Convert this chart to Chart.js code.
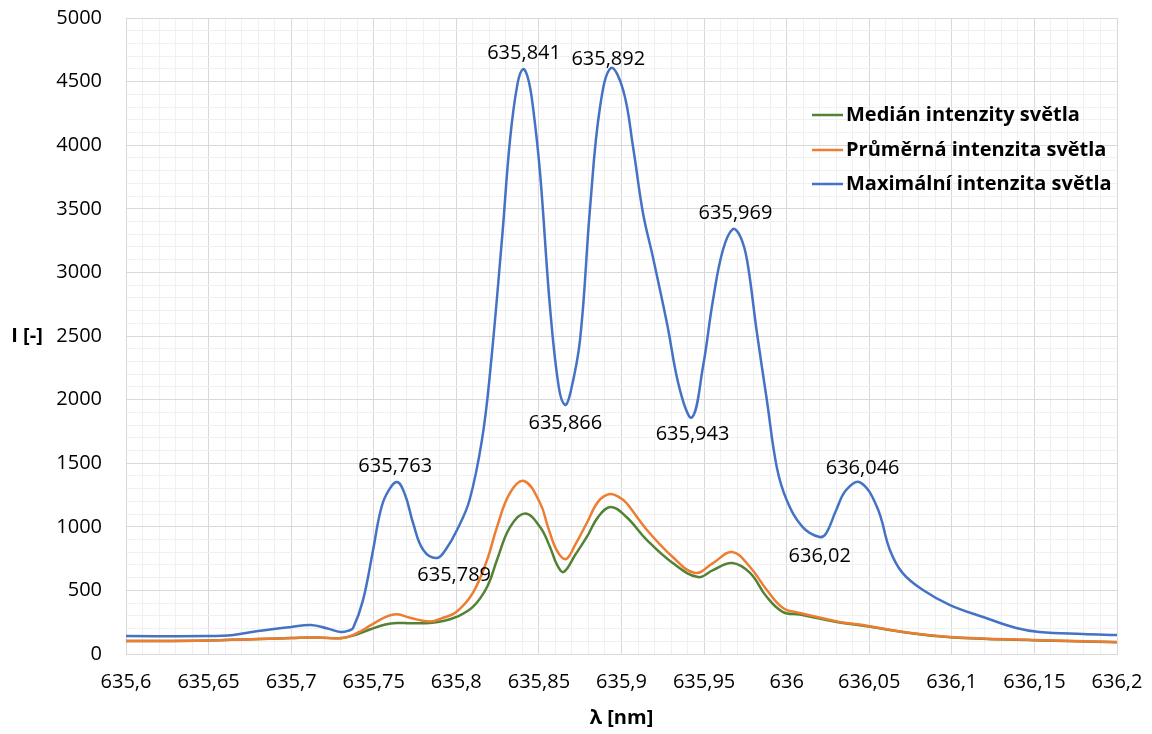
<!DOCTYPE html>
<html>
<head>
<meta charset="utf-8">
<title>Spektrum intenzity světla</title>
<script src="https://cdn.jsdelivr.net/npm/chart.js@4.4.1/dist/chart.umd.min.js"></script>
<style>
  html, body { margin: 0; padding: 0; background: #fff; }
  #wrap { width: 1152px; height: 734px; }
</style>
</head>
<body>
<div id="wrap"><canvas id="spectrum" width="1152" height="734"></canvas></div>
<script>
/* ── Data ── */
const seriesNames = ['Medián intenzity světla', 'Průměrná intenzita světla', 'Maximální intenzita světla'];

const medianX = [635.600, 635.650, 635.700, 635.715, 635.731, 635.740, 635.748, 635.757, 635.764, 635.772,
  635.784, 635.792, 635.800, 635.810, 635.8186, 635.8246, 635.8325, 635.8416, 635.8507, 635.8567,
  635.861, 635.865, 635.872, 635.879, 635.886, 635.8936, 635.903, 635.9154, 635.931, 635.9463,
  635.9554, 635.967, 635.9778, 635.988, 635.9978, 636.008, 636.0184, 636.032, 636.0486, 636.070,
  636.099, 636.149, 636.200];
const medianY = [102, 106, 125, 130, 126, 155, 195, 232, 244, 242,
  244, 260, 291, 370, 527, 739, 998, 1105, 998, 841,
  700, 645, 780, 920, 1080, 1156, 1077, 896, 715, 605,
  660, 715, 637, 448, 330, 310, 283, 248, 218, 173,
  132, 108, 92];

const meanX = [635.600, 635.650, 635.700, 635.715, 635.731, 635.740, 635.748, 635.757, 635.764, 635.772,
  635.784, 635.792, 635.800, 635.810, 635.8186, 635.8246, 635.8325, 635.841, 635.8507, 635.8555,
  635.861, 635.8664, 635.872, 635.879, 635.886, 635.893, 635.899, 635.903, 635.9154, 635.931,
  635.9446, 635.9554, 635.967, 635.9778, 635.988, 635.9978, 636.008, 636.0184, 636.032, 636.0486,
  636.070, 636.099, 636.149, 636.200];
const meanY = [102, 106, 125, 130, 126, 165, 225, 290, 312, 285,
  255, 285, 330, 480, 739, 998, 1266, 1360, 1187, 998,
  810, 747, 860, 1030, 1200, 1258, 1230, 1187, 975, 763,
  637, 715, 802, 684, 503, 362, 322, 291, 252, 222,
  175, 134, 110, 94];

const maxX = [635.600, 635.650, 635.665, 635.680, 635.700, 635.712, 635.722, 635.730, 635.735, 635.7375,
  635.7435, 635.7496, 635.7538, 635.7575, 635.764, 635.769, 635.7738, 635.780, 635.7883, 635.794,
  635.8004, 635.808, 635.8155, 635.8204, 635.8276, 635.8325, 635.837, 635.8404, 635.8435, 635.8464,
  635.8507, 635.8567, 635.862, 635.8658, 635.869, 635.8749, 635.881, 635.887, 635.8936, 635.901,
  635.907, 635.913, 635.919, 635.9275, 635.9354, 635.9427, 635.9493, 635.9554, 635.9614, 635.9675,
  635.972, 635.976, 635.982, 635.988, 635.994, 636.000, 636.0097, 636.0199, 636.024, 636.030,
  636.036, 636.0444, 636.0547, 636.0625, 636.070, 636.0825, 636.0989, 636.1189, 636.139, 636.153,
  636.179, 636.200];
const maxY = [141, 141, 150, 180, 212, 228, 200, 173, 185, 204,
  424, 818, 1108, 1250, 1352, 1250, 1030, 818, 755, 830,
  975, 1211, 1682, 2209, 3255, 4041, 4480, 4599, 4520, 4300,
  3781, 2728, 2100, 1958, 2050, 2469, 3514, 4300, 4607, 4434,
  3986, 3467, 3121, 2602, 2075, 1860, 2256, 2783, 3176, 3341,
  3280, 3097, 2524, 1997, 1470, 1211, 998, 920, 951, 1132,
  1289, 1350, 1156, 818, 640, 503, 385, 291, 204, 173,
  157, 149];

// extrema of the maximum curve that carry a wavelength label
const peakLabels = [635.763, 635.789, 635.841, 635.866, 635.892, 635.943, 635.969, 636.02, 636.046];
const peakSide   = ['above', 'below', 'above', 'below', 'above', 'below', 'above', 'below', 'above'];

const xMin = 635.6, xMax = 636.2, xMajor = 0.05, xMinor = 0.01;
const yMin = 0, yMax = 5000, yMajor = 500, yMinor = 100;

const colors = ['#548235', '#ED7D31', '#4472C4'];
const FONT = '"Open Sans", "Noto Sans", sans-serif';

const pts = (xs, ys) => xs.map((x, i) => ({ x, y: ys[i] }));
const fmt = v => String(parseFloat(v.toFixed(3))).replace('.', ',');

/* ── Interpolate the max curve at a wavelength (for label placement) ── */
function maxAt(x) {
  for (let i = 1; i < maxX.length; i++) {
    if (x <= maxX[i]) {
      const t = (x - maxX[i - 1]) / (maxX[i] - maxX[i - 1]);
      return maxY[i - 1] + t * (maxY[i] - maxY[i - 1]);
    }
  }
  return maxY[maxY.length - 1];
}

/* ── Plugin: peak labels, legend, horizontal y title ── */
const decorations = {
  id: 'decorations',
  afterDatasetsDraw(chart) {
    const { ctx, chartArea, scales } = chart;
    ctx.save();
    ctx.fillStyle = '#000';
    ctx.font = '20px ' + FONT;
    ctx.textAlign = 'center';
    ctx.textBaseline = 'middle';
    const nudge = { 1: 16 };
    peakLabels.forEach((lx, i) => {
      const px = scales.x.getPixelForValue(lx) + (nudge[i] || 0);
      const py = scales.y.getPixelForValue(maxAt(lx));
      ctx.fillText(fmt(lx), px, peakSide[i] === 'above' ? py - 18 : py + 19);
    });

    // legend inside plot area
    ctx.font = 'bold 20px ' + FONT;
    ctx.textAlign = 'left';
    const lx0 = 812, rows = [115, 150, 184];
    seriesNames.forEach((name, i) => {
      ctx.strokeStyle = colors[i];
      ctx.lineWidth = 2.5;
      ctx.beginPath();
      ctx.moveTo(lx0, rows[i]);
      ctx.lineTo(lx0 + 31, rows[i]);
      ctx.stroke();
      ctx.fillText(name, lx0 + 34, rows[i]);
    });

    // y axis title, horizontal
    ctx.font = 'bold 20px ' + FONT;
    ctx.textAlign = 'center';
    ctx.fillText('I [-]', 27, (chartArea.top + chartArea.bottom) / 2);
    ctx.restore();
  }
};

const isMajor = (v, origin, major) => Math.abs(((v - origin) / major) - Math.round((v - origin) / major)) < 1e-6;
const gridColor = (origin, major) => c => (c.tick && isMajor(c.tick.value, origin, major)) ? '#d9d9d9' : '#f0f0f0';

new Chart(document.getElementById('spectrum'), {
  type: 'line',
  data: {
    datasets: [
      { label: seriesNames[2], data: pts(maxX, maxY), borderColor: colors[2], order: 1 },
      { label: seriesNames[1], data: pts(meanX, meanY), borderColor: colors[1], order: 2 },
      { label: seriesNames[0], data: pts(medianX, medianY), borderColor: colors[0], order: 3 }
    ].map(d => Object.assign(d, {
      borderWidth: 2.5, pointRadius: 0, fill: false, tension: 0.4
    }))
  },
  options: {
    responsive: false,
    animation: false,
    layout: { padding: { top: 18, right: 35, left: 0, bottom: 0 } },
    plugins: { legend: { display: false }, tooltip: { enabled: false } },
    scales: {
      x: {
        type: 'linear', min: xMin, max: xMax,
        afterFit: s => { s.height = 80; s.paddingLeft = 0; s.paddingRight = 0; },
        border: { color: '#d9d9d9', width: 1 },
        grid: { color: gridColor(xMin, xMajor), drawTicks: false },
        ticks: {
          stepSize: xMinor, autoSkip: false, maxRotation: 0, padding: 16,
          color: '#000', font: { family: FONT, size: 20 },
          callback: v => isMajor(v, xMin, xMajor) ? fmt(v) : ''
        },
        title: { display: true, text: 'λ [nm]', color: '#000', font: { family: FONT, size: 20, weight: 'bold' }, padding: { top: 0, bottom: 4 } }
      },
      y: {
        min: yMin, max: yMax,
        afterFit: s => { s.width = 126; s.paddingTop = 0; s.paddingBottom = 0; },
        border: { color: '#d9d9d9', width: 1 },
        grid: { color: gridColor(yMin, yMajor), drawTicks: false },
        ticks: {
          stepSize: yMinor, autoSkip: false, padding: 24,
          color: '#000', font: { family: FONT, size: 20 },
          callback: v => isMajor(v, yMin, yMajor) ? v : ''
        }
      }
    }
  },
  plugins: [decorations]
});
</script>
</body>
</html>
